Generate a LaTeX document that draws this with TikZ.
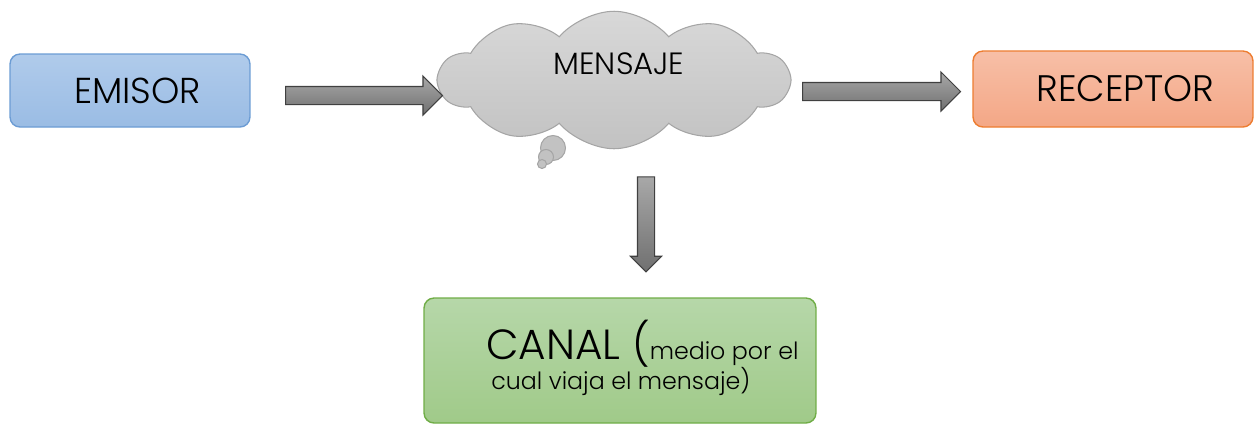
\documentclass[tikz,border=0pt]{standalone}
\usepackage{fontspec}
\setmainfont{Poppins}[UprightFont={* Light}]
\usetikzlibrary{shapes.symbols,shapes.arrows,positioning}
\definecolor{emtop}{RGB}{176,203,235}
\definecolor{embot}{RGB}{154,188,228}
\definecolor{emline}{RGB}{108,156,212}
\definecolor{retop}{RGB}{247,191,167}
\definecolor{rebot}{RGB}{244,167,134}
\definecolor{reline}{RGB}{237,125,49}
\definecolor{catop}{RGB}{182,215,169}
\definecolor{cabot}{RGB}{160,202,137}
\definecolor{caline}{RGB}{112,173,71}
\definecolor{cltop}{RGB}{216,216,216}
\definecolor{clbot}{RGB}{194,194,194}
\definecolor{clline}{RGB}{165,165,165}
\definecolor{artop}{RGB}{168,168,168}
\definecolor{arbot}{RGB}{112,112,112}
\begin{document}
\begin{tikzpicture}[
   x=0.02cm,y=-0.02cm,
   box/.style={draw,rounded corners=0.2cm,line width=0.8pt,inner sep=0},
   blockarr/.style={single arrow,draw=black!75,line width=0.6pt,top color=artop,bottom color=arbot,
      single arrow head extend=0.21cm,single arrow head indent=0,inner xsep=0,inner ysep=0.17cm,
      text height=0pt,text depth=0pt,minimum width=0},
   bubble/.style={circle,draw=clline,line width=0.6pt,fill=clbot,inner sep=0},
   every node/.style={text=black}]
\useasboundingbox (0,0) rectangle (1254,424);
% boxes
\node[box,draw=emline,top color=emtop,bottom color=embot,minimum width=4.8cm,minimum height=1.46cm,
   font=\fontsize{20.5}{24}\selectfont] (emisor) at (130,90.5) {\hspace{0.3cm}EMISOR};
\node[box,draw=reline,top color=retop,bottom color=rebot,minimum width=5.6cm,minimum height=1.52cm,
   font=\fontsize{21}{24}\selectfont] (receptor) at (1113,89) {\hspace{0.5cm}RECEPTOR};
\node[box,draw=caline,top color=catop,bottom color=cabot,minimum width=7.84cm,minimum height=2.5cm] (canal) at (620,360.5) {};
\node[anchor=north west,align=left,inner sep=0,font=\fontsize{13.5}{17}\selectfont] (canaltxt) at (486,320)
   {{\fontsize{24}{24}\selectfont CANAL (}medio por el\\[-1pt]\hspace{0.1cm}cual viaja el mensaje)};
% thought cloud
\node[bubble,minimum size=0.5cm] (b1) at (553,148) {};
\node[bubble,minimum size=0.3cm] (b2) at (546,157) {};
\node[bubble,minimum size=0.18cm] (b3) at (542,164) {};
\node[cloud,cloud puffs=10,cloud puff arc=100,aspect=2.6,draw=clline,line width=0.6pt,top color=cltop,bottom color=clbot,
   minimum width=7cm,minimum height=2.75cm,inner sep=0] (mensaje) at (614,80) {};
\node[font=\fontsize{17.5}{20}\selectfont] (mensajetxt) at (619,64) {MENSAJE};
% arrows
\node[blockarr,minimum height=3.14cm] (a1) at (359.5,95.5) {};
\node[blockarr,minimum height=3.16cm] (a2) at (877,91.5) {};
\node[blockarr,rotate=-90,minimum height=1.9cm,single arrow head extend=0.14cm,inner ysep=0.16cm] (a3) at (646,220) {};
\end{tikzpicture}
\end{document}
